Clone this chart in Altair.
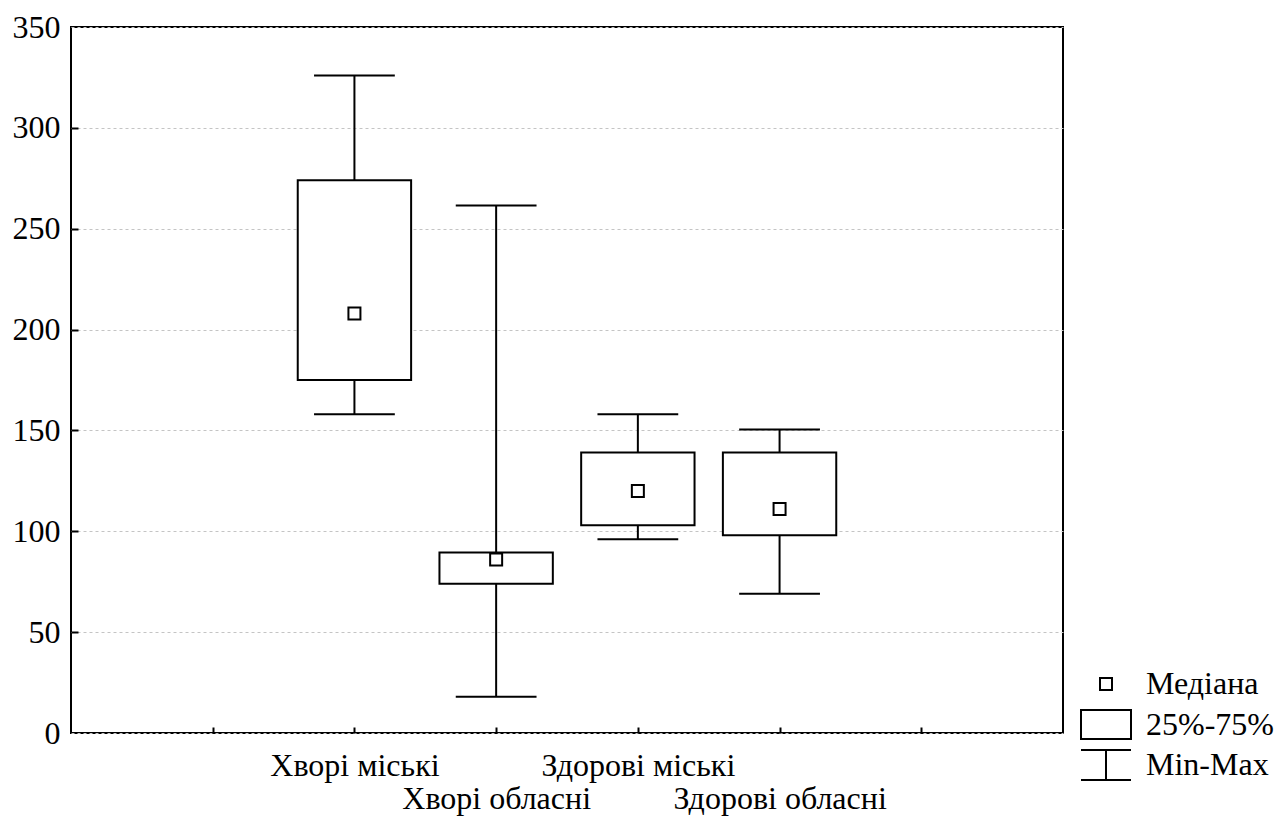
import altair as alt
import pandas as pd

# ---- data ----
groups = ["Хворі міські", "Хворі обласні", "Здорові міські", "Здорові обласні"]
mins = [158, 18, 96, 69]
q1s = [175, 74, 103, 98]
medians = [208, 86, 120, 111]
q3s = [274, 89.5, 139, 139]
maxs = [326, 261.5, 158, 150.5]

legend_items = ["Медіана", "25%-75%", "Min-Max"]
y_ticks = [0, 50, 100, 150, 200, 250, 300, 350]
x_ticks = [1, 2, 3, 4, 5, 6]

FONT = "Liberation Serif"
FS = 32
W, H = 992, 706
BOX_HALF = 0.4
CAP_HALF = 0.285

df = pd.DataFrame({
    "group": groups,
    "slot": [i + 2 for i in range(len(groups))],
    "min": mins, "q1": q1s, "median": medians, "q3": q3s, "max": maxs,
})

# label expression: alternate rows for staggered labels
parts = []
for i, g in enumerate(groups):
    txt = f"'{g}'" if i % 2 == 0 else f"['', '{g}']"
    parts.append(f"datum.value == {i + 2} ? {txt}")
label_expr = " : ".join(parts) + " : ''"

xscale = alt.Scale(domain=[0, 7], nice=False, zero=False)
yscale = alt.Scale(domain=[0, 350], nice=False, zero=False)

base = alt.Chart(df).transform_calculate(
    box_lo=f"datum.slot - {BOX_HALF}", box_hi=f"datum.slot + {BOX_HALF}",
    cap_lo=f"datum.slot - {CAP_HALF}", cap_hi=f"datum.slot + {CAP_HALF}",
)

main_x_axis = alt.Axis(values=x_ticks, labelExpr=label_expr, ticks=False, domain=False,
                       grid=False, labelFont=FONT, labelFontSize=FS, labelColor="black",
                       labelPadding=17, labelLineHeight=33, labelBaseline="top",
                       labelAlign="center", title=None, orient="bottom", labelOverlap=False,
                       labelLimit=500)
main_y_axis = alt.Axis(values=y_ticks, ticks=False, domain=False, grid=True,
                       gridColor="#c4c4c4", gridDash=[3, 3], gridWidth=1,
                       labelFont=FONT, labelFontSize=FS, labelColor="black",
                       labelPadding=11, title=None, orient="left")
tick_x_axis = alt.Axis(values=x_ticks, labels=False, domain=False, grid=False, ticks=True,
                       tickSize=6, tickWidth=2, tickColor="black", orient="top",
                       offset=-H, title=None)
tick_y_axis = alt.Axis(values=y_ticks[1:-1], labels=False, domain=False, grid=False, ticks=True,
                       tickSize=7, tickWidth=2, tickColor="black", orient="right",
                       offset=-W, title=None)

upper = base.mark_rule(color="black", strokeWidth=2).encode(
    x=alt.X("slot:Q", scale=xscale, axis=None),
    y=alt.Y("q3:Q", scale=yscale, axis=None),
    y2="max:Q",
)
lower = base.mark_rule(color="black", strokeWidth=2).encode(
    x=alt.X("slot:Q", scale=xscale, axis=None),
    y=alt.Y("min:Q", scale=yscale, axis=None),
    y2="q1:Q",
)
caps = base.transform_fold(["min", "max"], as_=["stat", "val"]).mark_rule(
    color="black", strokeWidth=2).encode(
    x=alt.X("cap_lo:Q", scale=xscale, axis=tick_x_axis),
    x2="cap_hi:Q",
    y=alt.Y("val:Q", scale=yscale, axis=tick_y_axis),
)
box = base.mark_rect(fill="white", stroke="black", strokeWidth=2).encode(
    x=alt.X("box_lo:Q", scale=xscale, axis=main_x_axis),
    x2="box_hi:Q",
    y=alt.Y("q1:Q", scale=yscale, axis=main_y_axis),
    y2="q3:Q",
)

s = 27.0
sq = 6 / s
bw, bh = 25 / s, 14.5 / s
ch = 15 / s
paths = [
    f"M{-sq:.4f},{-sq:.4f}H{sq:.4f}V{sq:.4f}H{-sq:.4f}Z",
    f"M{-bw:.4f},{-bh:.4f}H{bw:.4f}V{bh:.4f}H{-bw:.4f}Z",
    f"M{-bw:.4f},{-ch:.4f}H{bw:.4f}M0,{-ch:.4f}V{ch:.4f}M{-bw:.4f},{ch:.4f}H{bw:.4f}",
]

med = base.transform_calculate(comp="'Медіана'").mark_point(
    filled=False, color="black", strokeWidth=2,
    size=s * s * 4, opacity=1).encode(
    x=alt.X("slot:Q", scale=xscale, axis=None),
    y=alt.Y("median:Q", scale=yscale, axis=None),
    shape=alt.Shape("comp:N", scale=alt.Scale(domain=legend_items, range=paths),
                    legend=alt.Legend(title=None, orient="none", legendX=1007, legendY=637,
                                      padding=0, labelFont=FONT, labelFontSize=FS,
                                      labelColor="black", labelOffset=12,
                                      symbolSize=s * s * 4, symbolStrokeWidth=2,
                                      symbolStrokeColor="black", symbolOpacity=1,
                                      clipHeight=40, rowPadding=0.5, labelLimit=300)),
)

chart = alt.layer(upper, lower, caps, box, med).resolve_axis(
    x="independent", y="independent"
).properties(
    width=W, height=H,
    autosize=alt.AutoSizeParams(type="none"),
    padding={"left": 71, "top": 27, "right": 211, "bottom": 85},
    background="white",
).configure_view(stroke="black", strokeWidth=2)

chart.save("out.html", embed_options={"renderer": "svg", "actions": False})
